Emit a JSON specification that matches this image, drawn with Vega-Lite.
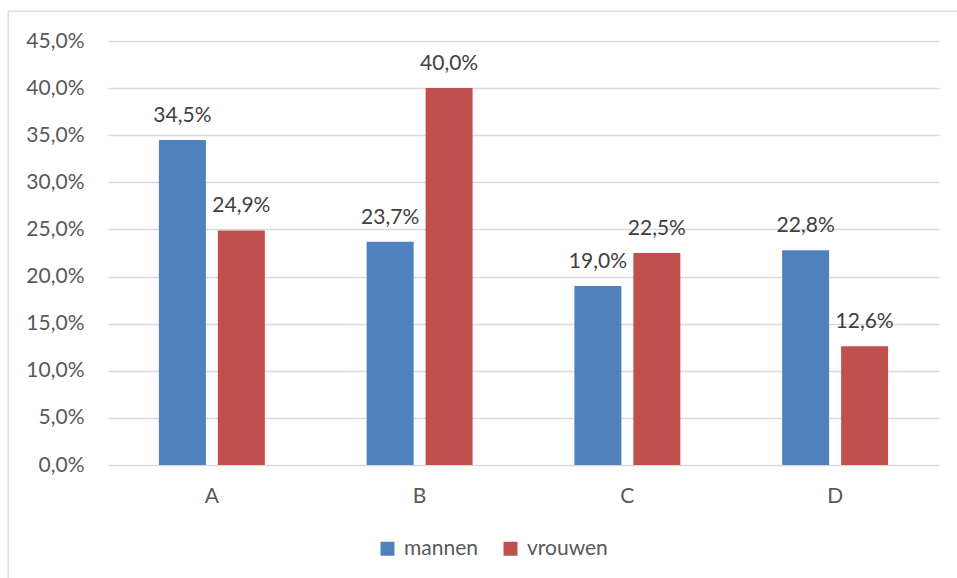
{
  "$schema": "https://vega.github.io/schema/vega-lite/v6.json",
  "autosize": {"type": "none"},
  "padding": {"left": 8, "top": 11, "right": 0, "bottom": 0},
  "width": 950,
  "height": 570,
  "background": "white",
  "data": {
    "values": [
      {"categorie": "A", "groep": "mannen", "aandeel": 0.345},
      {"categorie": "A", "groep": "vrouwen", "aandeel": 0.249},
      {"categorie": "B", "groep": "mannen", "aandeel": 0.237},
      {"categorie": "B", "groep": "vrouwen", "aandeel": 0.400},
      {"categorie": "C", "groep": "mannen", "aandeel": 0.190},
      {"categorie": "C", "groep": "vrouwen", "aandeel": 0.225},
      {"categorie": "D", "groep": "mannen", "aandeel": 0.228},
      {"categorie": "D", "groep": "vrouwen", "aandeel": 0.126}
    ]
  },
  "encoding": {
    "x": {
      "field": "categorie",
      "type": "nominal",
      "title": null,
      "scale": {"range": [100, 931], "paddingInner": 0.49, "paddingOuter": 0.245},
      "axis": {
        "labelAngle": 0,
        "domain": false,
        "ticks": false,
        "tickSize": 0,
        "offset": -116,
        "labelPadding": 20,
        "labelFont": "Lato",
        "labelFontSize": 21,
        "labelColor": "#595959",
        "grid": false
      }
    },
    "xOffset": {
      "field": "groep",
      "type": "nominal",
      "scale": {"paddingInner": 0.203, "paddingOuter": 0}
    },
    "y": {
      "field": "aandeel",
      "type": "quantitative",
      "title": null,
      "scale": {"domain": [0, 0.45], "range": [454, 30], "nice": false},
      "axis": {
        "values": [0, 0.05, 0.1, 0.15, 0.2, 0.25, 0.3, 0.35, 0.4, 0.45],
        "format": ".1%",
        "domain": false,
        "ticks": false,
        "tickSize": 0,
        "offset": -76,
        "labelPadding": 0,
        "labelFont": "Lato",
        "labelFontSize": 21,
        "labelColor": "#595959",
        "gridColor": "#d9d9d9",
        "gridWidth": 1.3
      }
    }
  },
  "layer": [
    {
      "mark": {"type": "bar"},
      "encoding": {
        "color": {
          "field": "groep",
          "type": "nominal",
          "title": null,
          "scale": {"domain": ["mannen", "vrouwen"], "range": ["#4f81bd", "#c0504d"]},
          "legend": {
            "orient": "none",
            "direction": "horizontal",
            "legendX": 369,
            "legendY": 527,
            "symbolType": "square",
            "symbolSize": 196,
            "symbolStrokeWidth": 0,
            "labelFont": "Lato",
            "labelFontSize": 21,
            "labelColor": "#595959",
            "labelOffset": 6,
            "columnPadding": 22
          }
        }
      }
    },
    {
      "mark": {
        "type": "text",
        "baseline": "bottom",
        "dy": -14,
        "font": "Lato",
        "fontSize": 21,
        "color": "#404040"
      },
      "encoding": {
        "text": {"field": "aandeel", "type": "quantitative", "format": ".1%"}
      }
    }
  ],
  "config": {
    "locale": {
      "number": {"decimal": ",", "thousands": ".", "grouping": [3], "currency": ["€", ""]}
    },
    "view": {"stroke": "#d9d9d9", "strokeWidth": 1.3}
  }
}
